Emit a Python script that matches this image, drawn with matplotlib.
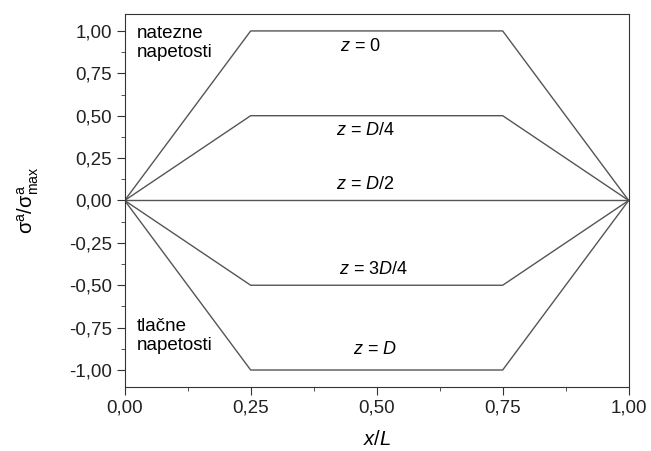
import matplotlib.pyplot as plt
from matplotlib.ticker import MultipleLocator, FuncFormatter

plt.rcParams['font.family'] = ['Liberation Sans', 'DejaVu Sans']
plt.rcParams['mathtext.fontset'] = 'custom'
plt.rcParams['mathtext.it'] = 'Liberation Sans:italic'
plt.rcParams['mathtext.rm'] = 'Liberation Sans'

x_pts = [0.0, 0.25, 0.75, 1.0]
curves = {
    "z = 0": [0.0, 1.0, 1.0, 0.0],
    "z = D/4": [0.0, 0.5, 0.5, 0.0],
    "z = D/2": [0.0, 0.0, 0.0, 0.0],
    "z = 3D/4": [0.0, -0.5, -0.5, 0.0],
    "z = D": [0.0, -1.0, -1.0, 0.0],
}
labels = [
    (r"$z$ = 0", 0.468, 0.91),
    (r"$z$ = $D$/4", 0.478, 0.41),
    (r"$z$ = $D$/2", 0.478, 0.095),
    (r"$z$ = 3$D$/4", 0.494, -0.41),
    (r"$z$ = $D$", 0.496, -0.88),
]

fig = plt.figure(figsize=(6.51, 4.51), dpi=100)
ax = fig.add_axes([0.1915, 0.142, 0.7742, 0.827])
color = "#555555"
for name, ys in curves.items():
    ax.plot(x_pts, ys, color=color, lw=1.0)

for txt, xx, yy in labels:
    ax.text(xx, yy, txt, ha="center", va="center", fontsize=13)

ax.text(0.024, 0.93, "natezne\nnapetosti", ha="left", va="center", fontsize=13.5, linespacing=1.15)
ax.text(0.024, -0.80, "tlačne\nnapetosti", ha="left", va="center", fontsize=13.5, linespacing=1.15)

ax.set_xlim(0, 1)
ax.set_ylim(-1.1, 1.1)
ax.xaxis.set_major_locator(MultipleLocator(0.25))
ax.xaxis.set_minor_locator(MultipleLocator(0.125))
ax.yaxis.set_major_locator(MultipleLocator(0.25))
ax.yaxis.set_minor_locator(MultipleLocator(0.125))
fmt = FuncFormatter(lambda v, p: f"{v:.2f}".replace(".", ",").replace("-0,00", "0,00"))
ax.xaxis.set_major_formatter(fmt)
ax.yaxis.set_major_formatter(fmt)
ax.tick_params(which="both", direction="out", color="#333333", labelsize=13.5, labelcolor="#222222")
ax.tick_params(which="major", length=6, pad=3)
ax.tick_params(which="minor", length=3)
for s in ax.spines.values():
    s.set_color("#333333")

ax.set_xlabel(r"$x$/$L$", fontsize=14.5, labelpad=10)
ax.set_ylabel(r"$\mathrm{σ}^{\rm a}/\mathrm{σ}^{\rm a}_{\rm max}$", fontsize=14.5, labelpad=20)

fig.savefig("out.png", dpi=100)
